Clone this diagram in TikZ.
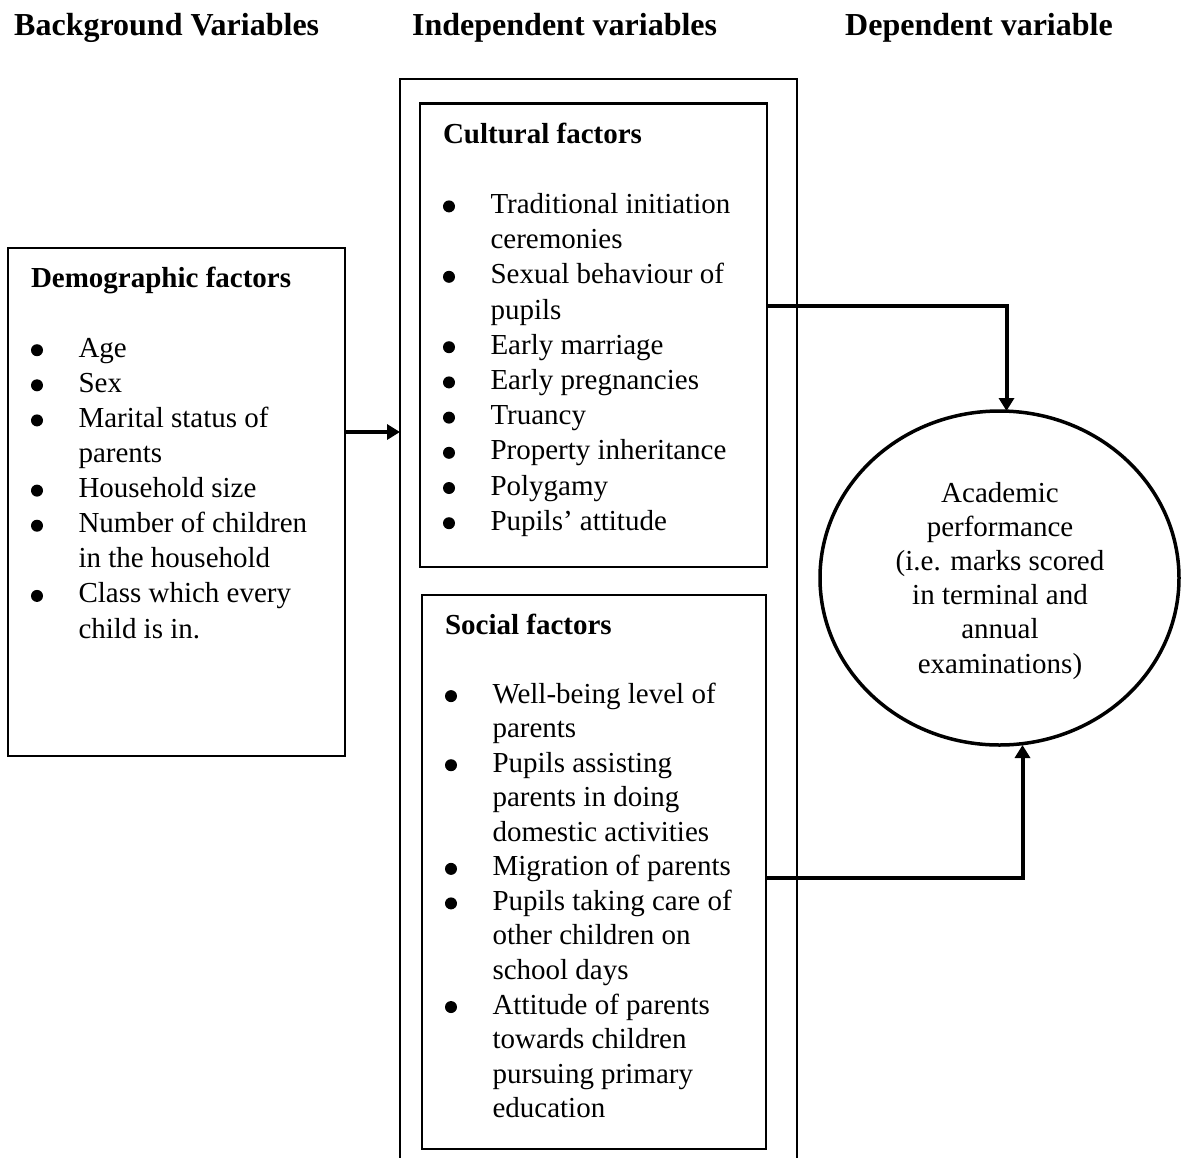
\documentclass[tikz,border=0pt]{standalone}
\usepackage{fontspec}
\setmainfont{Liberation Serif}
\usetikzlibrary{arrows.meta,shapes.geometric}
\tikzset{
  frame/.style={draw, line width=2.5pt, inner sep=0pt, outer sep=0pt, anchor=north west},
  conn/.style={draw, line width=4pt, -{Triangle[length=13pt,width=15pt]}},
  txt/.style={anchor=base west, inner sep=0pt, outer sep=0pt},
  title/.style={anchor=base west, inner sep=0pt, font=\fontsize{32}{38}\selectfont\bfseries},
  perfshape/.style={draw, ellipse, line width=3.5pt, inner sep=0pt, outer sep=0pt}
}
\newcommand{\bul}{\tikz[x=1pt,y=1pt,baseline=0pt]\fill (6pt,7pt) circle[radius=6pt];}
\newcommand{\bli}[1]{\makebox[47.5pt][l]{\bul}#1}
\newcommand{\cnt}[1]{\hspace*{47.5pt}#1}
\begin{document}
\begin{tikzpicture}[x=1pt,y=-1pt]
\useasboundingbox (0,0) rectangle (1181,1157);
\clip (0,0) rectangle (1181,1157);

% titles
\node[title] (t1) at (14,35) {Background Variables};
\node[title] (t2) at (412,35) {Independent variables};
\node[title] (t3) at (845,35) {Dependent variable};

% boxes
\node[frame, minimum width=337pt, minimum height=508pt] (demo) at (8,248) {};
\node[frame, minimum width=397pt, minimum height=1120pt] (outer) at (400,79) {};
\node[frame, minimum width=347pt, minimum height=463.5pt] (cult) at (420,103.5) {};
\node[frame, minimum width=344pt, minimum height=554pt] (soc) at (422,595) {};
\node[perfshape, minimum width=359pt, minimum height=334pt] (perf) at (999.5,578) {};

% texts
\node[txt] (demotext) at (31,287) {\parbox[t]{310pt}{\fontsize{29}{35.1}\selectfont\raggedright
\textbf{Demographic factors}\\
\mbox{}\\
\bli{Age}\\
\bli{Sex}\\
\bli{Marital status of}\\
\cnt{parents}\\
\bli{Household size}\\
\bli{Number of children}\\
\cnt{in the household}\\
\bli{Class which every}\\
\cnt{child is in.}}};

\node[txt] (culttext) at (443,143) {\parbox[t]{320pt}{\fontsize{29}{35.2}\selectfont\raggedright
\textbf{Cultural factors}\\
\mbox{}\\
\bli{Traditional initiation}\\
\cnt{ceremonies}\\
\bli{Sexual behaviour of}\\
\cnt{pupils}\\
\bli{Early marriage}\\
\bli{Early pregnancies}\\
\bli{Truancy}\\
\bli{Property inheritance}\\
\bli{Polygamy}\\
\bli{Pupils’ attitude}}};

\node[txt] (soctext) at (445,634) {\parbox[t]{320pt}{\fontsize{29}{34.55}\selectfont\raggedright
\textbf{Social factors}\\
\mbox{}\\
\bli{Well-being level of}\\
\cnt{parents}\\
\bli{Pupils assisting}\\
\cnt{parents in doing}\\
\cnt{domestic activities}\\
\bli{Migration of parents}\\
\bli{Pupils taking care of}\\
\cnt{other children on}\\
\cnt{school days}\\
\bli{Attitude of parents}\\
\cnt{towards children}\\
\cnt{pursuing primary}\\
\cnt{education}}};

\node[anchor=base, inner sep=0pt] (perftext) at (1000,502) {\parbox[t]{320pt}{\centering\fontsize{29}{34.2}\selectfont
Academic\\
performance\\
(i.e. marks scored\\
in terminal and\\
annual\\
examinations)}};

% connectors
\draw[conn] (demo.east |- 0,432) -- (outer.west |- 0,432);
\draw[conn] (cult.east |- 0,306) -| ([xshift=7pt]perf.north);
\draw[conn] (soc.east |- 0,878) -| ([xshift=23pt]perf.south);
\end{tikzpicture}
\end{document}
